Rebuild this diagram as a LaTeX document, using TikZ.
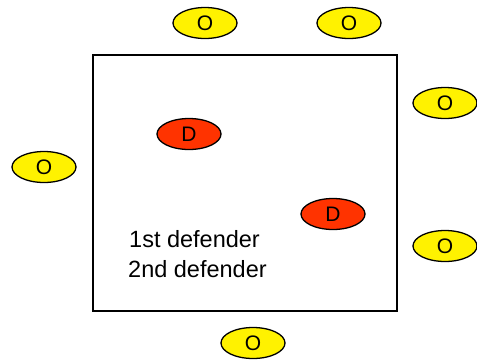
\documentclass[tikz,border=0pt]{standalone}
\usepackage{fontspec}
\setmainfont{Liberation Sans}
\usetikzlibrary{shapes.geometric}
\begin{document}
\begin{tikzpicture}[x=1pt,y=-1pt,
  player/.style={ellipse,draw=black,line width=1.3pt,minimum width=64pt,minimum height=31pt,inner sep=0pt,font=\fontsize{21}{24}\selectfont},
  off/.style={player,fill=yellow},
  def/.style={player,fill={rgb,255:red,255;green,51;blue,0}},
  lbl/.style={anchor=base west,inner sep=0pt,font=\fontsize{23.5}{26}\selectfont}]
\useasboundingbox (0,0) rectangle (477,360);
\draw[line width=1.4pt] (93,55) rectangle (397,311);
\node[off] (o1) at (205,23) {O};
\node[off] (o2) at (349,23) {O};
\node[off] (o3) at (445,103) {O};
\node[off] (o4) at (44,167) {O};
\node[off] (o5) at (445,246) {O};
\node[off] (o6) at (253,343) {O};
\node[def] (d1) at (189,134) {D};
\node[def] (d2) at (333,214) {D};
\node[lbl] (t1) at (129,247) {1st defender};
\node[lbl] (t2) at (128,277) {2nd defender};
\end{tikzpicture}
\end{document}
